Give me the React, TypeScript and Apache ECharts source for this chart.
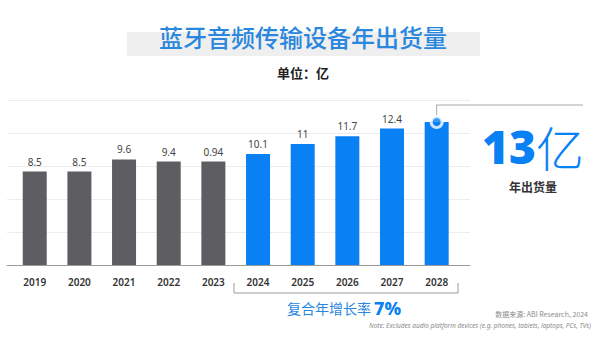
import React, { useEffect, useRef } from "react";
import * as echarts from "echarts";

const years = ["2019", "2020", "2021", "2022", "2023", "2024", "2025", "2026", "2027", "2028"];
const values = [8.5, 8.5, 9.6, 9.4, 9.4, 10.1, 11, 11.7, 12.4, 13];
const valueLabels = ["8.5", "8.5", "9.6", "9.4", "0.94", "10.1", "11", "11.7", "12.4", ""];
const forecastStart = 5; // index of first forecast year (blue)
const highlight = ["2028", 13];
const yTicks = { min: 0, max: 15, interval: 3 };

const GRAY = "#5e5e62";
const BLUE = "#0a80f5";
const TITLE_BLUE = "#2a87de";
const FONT = "'Noto Sans', 'Noto Sans CJK SC', sans-serif";
const CJK = "'Noto Sans CJK SC', 'Noto Sans', sans-serif";

export default function App() {
  const ref = useRef<HTMLDivElement>(null);
  useEffect(() => {
    document.body.style.margin = "0";
    const chart = echarts.init(ref.current!, null, { renderer: "svg" });
    const option: any = {
      animation: false,
      backgroundColor: "#ffffff",
      grid: [
        { left: 7, right: 130, top: 100, bottom: 77 },
        { left: 12.4, right: 141, top: 100, bottom: 77 },
      ],
      xAxis: [
        {
          gridIndex: 0,
          type: "category",
          data: [""],
          axisLine: { show: true, lineStyle: { color: "#9a9a9a", width: 1 } },
          axisTick: { show: false },
          axisLabel: { show: false },
        },
        {
          gridIndex: 1,
          type: "category",
          data: years,
          axisLine: { show: false },
          axisTick: { show: false },
          axisLabel: {
            margin: 12,
            fontSize: 10,
            fontWeight: 600,
            color: "#333",
            fontFamily: FONT,
          },
        },
      ],
      yAxis: [
        {
          gridIndex: 0,
          type: "value",
          ...yTicks,
          axisLine: { show: false },
          axisTick: { show: false },
          axisLabel: { show: false },
          splitLine: { lineStyle: { color: "#ececec", width: 1 } },
        },
        {
          gridIndex: 1,
          type: "value",
          ...yTicks,
          axisLine: { show: false },
          axisTick: { show: false },
          axisLabel: { show: false },
          splitLine: { show: false },
        },
      ],
      series: [
        {
          type: "bar",
          xAxisIndex: 1,
          yAxisIndex: 1,
          barWidth: 24,
          data: values.map((v, i) => ({
            value: v,
            itemStyle: { color: i >= forecastStart ? BLUE : GRAY },
          })),
          label: {
            show: true,
            position: "top",
            distance: 5,
            fontSize: 10,
            color: "#444",
            fontFamily: FONT,
            formatter: (p: any) => valueLabels[p.dataIndex],
          },
        },
        {
          type: "scatter",
          xAxisIndex: 1,
          yAxisIndex: 1,
          z: 5,
          symbol: "circle",
          symbolSize: 11,
          itemStyle: { color: BLUE, borderColor: "#ffffff", borderWidth: 3 },
          data: [highlight],
        },
      ],
    };
    chart.setOption(option);
    const [px, py] = chart.convertToPixel({ gridIndex: 1 } as any, highlight as any) as number[];
    chart.setOption({
      graphic: [
        { type: "rect", shape: { x: 127, y: 32, width: 353, height: 24 }, style: { fill: "#efefef" }, z: 0 },
        {
          type: "text",
          x: 303,
          y: 36,
          style: {
            text: "蓝牙音频传输设备年出货量",
            fill: TITLE_BLUE,
            font: `500 24px ${CJK}`,
            textAlign: "center",
            textVerticalAlign: "middle",
          },
          z: 1,
        },
        {
          type: "text",
          x: 303,
          y: 72,
          style: { text: "单位：亿", fill: "#222", font: `600 13px ${CJK}`, textAlign: "center", textVerticalAlign: "middle" },
        },
        {
          type: "polyline",
          shape: { points: [[px, py - 6], [px, 105], [583, 105]] },
          style: { stroke: "#a8a8a8", lineWidth: 1, fill: null },
          z: 1,
        },
        {
          type: "text",
          x: 533,
          y: 146,
          style: {
            text: "{a|13}{b|亿}",
            textAlign: "center",
            textVerticalAlign: "middle",
            rich: {
              a: { fontSize: 46, fontWeight: 900, fill: BLUE, fontFamily: FONT, lineHeight: 40 },
              b: { fontSize: 48, fontWeight: 300, fill: BLUE, fontFamily: CJK, lineHeight: 40 },
            },
          },
        },
        {
          type: "text",
          x: 533,
          y: 186,
          style: { text: "年出货量", fill: "#333", font: `600 12px ${CJK}`, textAlign: "center", textVerticalAlign: "middle" },
        },
        {
          type: "polyline",
          shape: { points: [[234, 283], [234, 293], [458, 293], [458, 283]] },
          style: { stroke: "#9a9a9a", lineWidth: 1, fill: null },
        },
        {
          type: "text",
          x: 344,
          y: 308,
          style: {
            text: "{a|复合年增长率 }{b|7%}",
            textAlign: "center",
            textVerticalAlign: "middle",
            rich: {
              a: { fontSize: 14, fill: TITLE_BLUE, fontFamily: CJK },
              b: { fontSize: 18, fontWeight: 800, fill: BLUE, fontFamily: FONT },
            },
          },
        },
        {
          type: "text",
          x: 588,
          y: 314,
          style: { text: "数据来源: ABI Research, 2024", fill: "#8a8a8a", font: `7px ${CJK}`, textAlign: "right", textVerticalAlign: "middle" },
        },
        {
          type: "text",
          x: 591,
          y: 325,
          style: {
            text: "Note: Excludes audio platform devices (e.g. phones, tablets, laptops, PCs, TVs)",
            fill: "#8a8a8a",
            font: `italic 6.5px ${FONT}`,
            textAlign: "right",
            textVerticalAlign: "middle",
          },
        },
      ],
    });
    return () => chart.dispose();
  }, []);
  return <div ref={ref} style={{ position: "fixed", left: 0, top: 0, width: 600, height: 342 }} />;
}
